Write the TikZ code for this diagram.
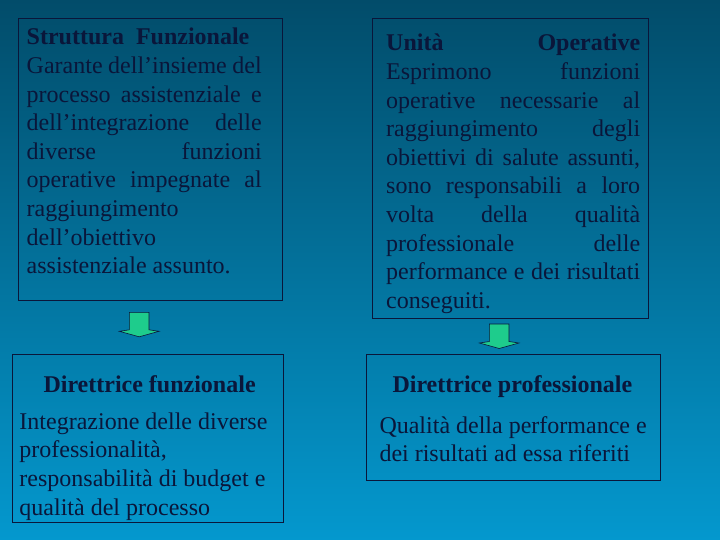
\documentclass[tikz,border=0pt]{standalone}
\usepackage{fontspec}
\setmainfont{Liberation Serif}
\usepackage{xcolor}
\usepackage{tikz}

\definecolor{bgtop}{RGB}{2,76,106}
\definecolor{bgmid}{RGB}{2,122,168}
\definecolor{bgbot}{RGB}{4,152,206}
\definecolor{ink}{RGB}{10,22,58}
\definecolor{arrowgreen}{RGB}{30,204,140}

\newcommand{\jline}[1]{\makebox[\hsize][s]{\spaceskip=0pt\relax #1}}

\tikzset{
  boxline/.style={draw=ink, line width=0.8pt},
  bodytext/.style={text=ink, inner sep=0pt, anchor=base west,
    font=\fontsize{24}{28.6}\selectfont,
    execute at begin node={\spaceskip=0pt\relax}},
  headtext/.style={text=ink, inner sep=0pt, anchor=base west,
    font=\fontsize{24}{28.6}\selectfont\bfseries},
  blockarrow/.style={fill=arrowgreen, draw=ink, line width=0.6pt, line join=miter}
}

\begin{document}
\begin{tikzpicture}[x=1pt,y=-1pt]
\shade[top color=bgtop, middle color=bgmid, bottom color=bgbot] (0,0) rectangle (720,540);
\useasboundingbox (0,0) rectangle (720,540);

% upper boxes
\draw[boxline] (18.3,18.3) rectangle (282.7,300);
\node[bodytext, text width=235pt] (strutt) at (26.5,45) {%
  \textbf{Struttura\ \ Funzionale}\\
  \jline{Garante dell’insieme del}\\
  \jline{processo assistenziale e}\\
  \jline{dell’integrazione delle}\\
  \jline{diverse funzioni}\\
  \jline{operative impegnate al}\\
  raggiungimento\\
  dell’obiettivo\\
  assistenziale assunto.};

\draw[boxline] (372.3,18.3) rectangle (648.7,318.3);
\node[bodytext, text width=254pt] (unita) at (386,51) {%
  \jline{\bfseries Unità Operative}\\
  \jline{Esprimono funzioni}\\
  \jline{operative necessarie al}\\
  \jline{raggiungimento degli}\\
  \jline{obiettivi di salute assunti,}\\
  \jline{sono responsabili a loro}\\
  \jline{volta della qualità}\\
  \jline{professionale delle}\\
  \jline{performance e dei risultati}\\
  conseguiti.};

% arrows
\coordinate (a1) at (139.2,312.3);
\coordinate (a2) at (499.2,324);
\foreach \a in {a1,a2}
  \draw[blockarrow] (\a) ++(-9.8,0) -- ++(19.6,0) -- ++(0,17.5) -- ++(10,1.5)
    -- ++(-19.8,5.5) -- ++(-19.8,-5.5) -- ++(10,-1.5) -- cycle;

% lower boxes
\draw[boxline] (12.3,354.3) rectangle (283,522.3);
\node[headtext] (dirfun) at (43.3,392.7) {Direttrice funzionale};
\node[bodytext, text width=262pt] (dirfuntext) at (19.3,429.3) {%
  Integrazione delle diverse\\
  professionalità,\\
  responsabilità di budget e\\
  qualità del processo};

\draw[boxline] (366.7,354.3) rectangle (660.7,480);
\node[headtext] (dirpro) at (392.3,392.7) {Direttrice professionale};
\node[bodytext, text width=275pt] (dirprotext) at (379.3,433.3) {%
  Qualità della performance e\\
  dei risultati ad essa riferiti};
\end{tikzpicture}
\end{document}
